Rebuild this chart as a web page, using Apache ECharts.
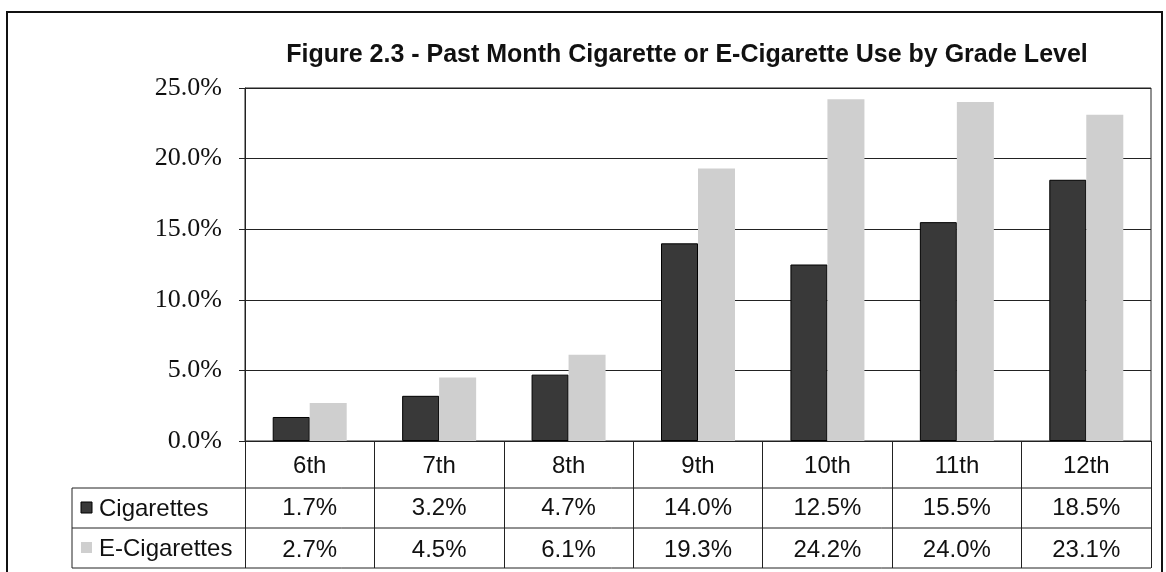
<!DOCTYPE html>
<html>
<head>
<meta charset="utf-8">
<script src="https://cdn.jsdelivr.net/npm/echarts@6/dist/echarts.min.js"></script>
<style>
  html, body { margin: 0; padding: 0; background: #fff; }
  #chart { width: 1166px; height: 572px; }
</style>
</head>
<body>
<div id="chart"></div>
<script>
// data
var grades = ['6th', '7th', '8th', '9th', '10th', '11th', '12th'];
var seriesNames = ['Cigarettes', 'E-Cigarettes'];
var cigarettes = [1.7, 3.2, 4.7, 14.0, 12.5, 15.5, 18.5];
var eCigarettes = [2.7, 4.5, 6.1, 19.3, 24.2, 24.0, 23.1];
var yTicks = [0, 5, 10, 15, 20, 25];

var darkColor = '#393939';
var lightColor = '#cfcfcf';

// plot area
var gLeft = 245, gRight = 15, gTop = 88, gBottom = 131;
var tableLeft = 72, rowH = 40, headH = 47;
var axisY = 572 - gBottom;
var tableRight = 1166 - gRight;

var chart = echarts.init(document.getElementById('chart'));

var graphics = [
  // outer frame of the figure
  { type: 'rect', shape: { x: 7, y: 12, width: 1155, height: 600 },
    style: { fill: 'none', stroke: '#111', lineWidth: 2 } },
  // table rows (the header row has no legend cell)
  { type: 'line', shape: { x1: tableLeft, y1: axisY + headH, x2: tableRight, y2: axisY + headH },
    style: { stroke: '#222', lineWidth: 1 } },
  { type: 'line', shape: { x1: tableLeft, y1: axisY + headH + rowH, x2: tableRight, y2: axisY + headH + rowH },
    style: { stroke: '#222', lineWidth: 1 } },
  { type: 'line', shape: { x1: tableLeft, y1: axisY + headH + rowH * 2, x2: tableRight, y2: axisY + headH + rowH * 2 },
    style: { stroke: '#222', lineWidth: 1 } },
  { type: 'line', shape: { x1: tableLeft, y1: axisY + headH, x2: tableLeft, y2: axisY + headH + rowH * 2 },
    style: { stroke: '#222', lineWidth: 1 } }
];

// legend keys inside the table
[darkColor, lightColor].forEach(function (c, i) {
  var cy = axisY + headH + rowH * i + rowH / 2;
  graphics.push({ type: 'rect', shape: { x: 81, y: cy - 6, width: 11, height: 11 },
    style: { fill: c, stroke: i === 0 ? '#000' : null, lineWidth: 1 } });
  graphics.push({ type: 'text', x: 99, y: cy + 1, style: {
    text: seriesNames[i], font: '24px "Liberation Sans", Arial, sans-serif',
    fill: '#111', verticalAlign: 'middle' } });
});

chart.setOption({
  animation: false,
  backgroundColor: '#fff',
  title: {
    text: 'Figure 2.3 - Past Month Cigarette or E-Cigarette Use by Grade Level',
    left: 682, top: 38, textAlign: 'center',
    textStyle: { fontFamily: '"Liberation Sans", Arial, sans-serif', fontSize: 25, fontWeight: 'bold', color: '#111' }
  },
  grid: { left: gLeft, right: gRight, top: gTop, bottom: gBottom, show: true, borderColor: '#222', borderWidth: 1 },
  xAxis: {
    type: 'category',
    data: grades,
    axisLine: { lineStyle: { color: '#222', width: 1 } },
    axisTick: { show: true, length: headH + rowH * 2, lineStyle: { color: '#222', width: 1 } },
    axisLabel: {
      interval: 0, margin: 4, color: '#111',
      fontFamily: '"Liberation Sans", Arial, sans-serif', fontSize: 24,
      lineHeight: 42,
      formatter: function (v, i) {
        return v + '\n' + cigarettes[i].toFixed(1) + '%\n' + eCigarettes[i].toFixed(1) + '%';
      }
    }
  },
  yAxis: {
    type: 'value',
    min: yTicks[0], max: yTicks[yTicks.length - 1], interval: yTicks[1] - yTicks[0],
    axisLine: { show: true, lineStyle: { color: '#222', width: 1 } },
    axisTick: { show: true, length: 6, lineStyle: { color: '#222' } },
    splitLine: { lineStyle: { color: '#222', width: 1 } },
    axisLabel: {
      margin: 23, color: '#111',
      fontFamily: '"Liberation Serif", "Times New Roman", serif', fontSize: 26,
      formatter: function (v) { return v.toFixed(1) + '%'; }
    }
  },
  series: [
    { name: seriesNames[0], type: 'bar', data: cigarettes, barWidth: 37, barGap: '0%',
      itemStyle: { color: darkColor, borderColor: '#000', borderWidth: 1 } },
    { name: seriesNames[1], type: 'bar', data: eCigarettes, barWidth: 37, barGap: '0%',
      itemStyle: { color: lightColor } }
  ],
  graphic: graphics
});
</script>
</body>
</html>
